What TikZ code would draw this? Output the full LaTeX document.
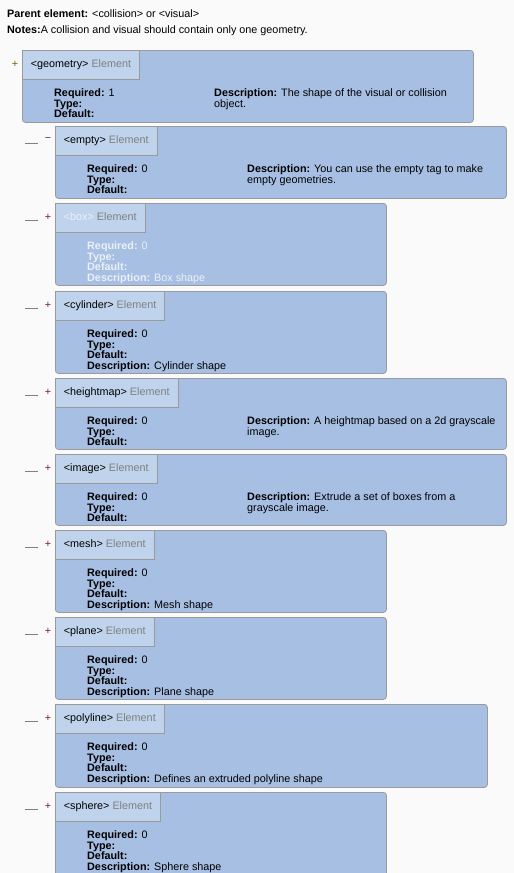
\documentclass[tikz,border=0pt]{standalone}
\usepackage{fontspec}
\setmainfont{Liberation Sans}
\usetikzlibrary{positioning}
\definecolor{bodyblue}{HTML}{A7BFE3}
\definecolor{tabblue}{HTML}{C0D3EC}
\definecolor{edgegray}{HTML}{9A9A9A}
\definecolor{pagegray}{HTML}{FAFAFA}
\definecolor{elemgray}{HTML}{7F7F7F}
\definecolor{faded}{HTML}{EAF0F8}
\definecolor{signred}{HTML}{7A2020}
\definecolor{signolive}{HTML}{7A6400}
\definecolor{linegray}{HTML}{808080}

\begin{document}
\begin{tikzpicture}[x=1pt,y=-1pt,
	every node/.style={font=\fontsize{10.8}{10.7}\selectfont,inner sep=0pt},
	elbody/.style={draw=edgegray,fill=bodyblue,line width=0.8pt,rounded corners=3pt,anchor=north west},
	eltab/.style={draw=edgegray,fill=tabblue,line width=0.8pt,anchor=north west,inner xsep=8.5pt,minimum height=28.5pt,text height=8pt,text depth=2pt},
	elinfo/.style={anchor=north west,align=left},
	elsign/.style={text=signred,inner xsep=6.5pt},
	elline/.style={draw=linegray,line width=0.5pt}]
		\fill[pagegray] (0,0) rectangle (514,873);
		\useasboundingbox (0,0) rectangle (514,873);

		% Header notes
		\node[anchor=base west] (parentNote) at (7,17) {\textbf{Parent element:} <collision> or <visual>};
		\node[anchor=base west] (notesNote) at (7,33) {\textbf{Notes:}A collision and visual should contain only one geometry.};

		% geometry
		\node[elbody,minimum width=451pt,minimum height=72pt] (geomBody) at (22,50) {};
		\node[eltab] (geomTab) at (geomBody.north west) {<geometry> \textcolor{elemgray}{Element}};
		\node[text=signolive] (geomSign) at (15,64) {+};
		\node[elinfo] (geomReq) at (54,88.5) {\textbf{Required:} 1\\\textbf{Type:}\\\textbf{Default:}};
		\node[elinfo] (geomDesc) at (214,88.5) {\textbf{Description:} The shape of the visual or collision\\object.};

		% empty
		\node[elbody,minimum width=451pt,minimum height=72pt] (emptyBody) at (55,126) {};
		\node[eltab] (emptyTab) at (emptyBody.north west) {<empty> \textcolor{elemgray}{Element}};
		\node[elsign] (emptySign) at (48,140) {−};
		\coordinate (emptyDash) at (25,143);
		\draw[elline] (emptyDash) -- (emptyDash -| emptySign.west);
		\node[elinfo] (emptyReq) at (87,164.5) {\textbf{Required:} 0\\\textbf{Type:}\\\textbf{Default:}};
		\node[elinfo] (emptyDesc) at (247,164.5) {\textbf{Description:} You can use the empty tag to make\\empty geometries.};

		% box
		\node[elbody,minimum width=331pt,minimum height=82pt] (boxBody) at (55,203) {};
		\node[eltab] (boxTab) at (boxBody.north west) {\textcolor{faded}{<box>} \textcolor{elemgray}{Element}};
		\node[elsign] (boxSign) at (48,217) {+};
		\coordinate (boxDash) at (25,220);
		\draw[elline] (boxDash) -- (boxDash -| boxSign.west);
		\node[elinfo,text=faded] (boxReq) at (87,241.5) {\textbf{Required:} 0\\\textbf{Type:}\\\textbf{Default:}\\\textbf{Description:} Box shape};

		% cylinder
		\node[elbody,minimum width=331pt,minimum height=82pt] (cylBody) at (55,291) {};
		\node[eltab] (cylTab) at (cylBody.north west) {<cylinder> \textcolor{elemgray}{Element}};
		\node[elsign] (cylSign) at (48,305) {+};
		\coordinate (cylDash) at (25,308);
		\draw[elline] (cylDash) -- (cylDash -| cylSign.west);
		\node[elinfo] (cylReq) at (87,329.5) {\textbf{Required:} 0\\\textbf{Type:}\\\textbf{Default:}\\\textbf{Description:} Cylinder shape};

		% heightmap
		\node[elbody,minimum width=451pt,minimum height=71pt] (hmapBody) at (55,378) {};
		\node[eltab] (hmapTab) at (hmapBody.north west) {<heightmap> \textcolor{elemgray}{Element}};
		\node[elsign] (hmapSign) at (48,392) {+};
		\coordinate (hmapDash) at (25,395);
		\draw[elline] (hmapDash) -- (hmapDash -| hmapSign.west);
		\node[elinfo] (hmapReq) at (87,416.5) {\textbf{Required:} 0\\\textbf{Type:}\\\textbf{Default:}};
		\node[elinfo] (hmapDesc) at (247,416.5) {\textbf{Description:} A heightmap based on a 2d grayscale\\image.};

		% image
		\node[elbody,minimum width=451pt,minimum height=71pt] (imgBody) at (55,454) {};
		\node[eltab] (imgTab) at (imgBody.north west) {<image> \textcolor{elemgray}{Element}};
		\node[elsign] (imgSign) at (48,468) {+};
		\coordinate (imgDash) at (25,471);
		\draw[elline] (imgDash) -- (imgDash -| imgSign.west);
		\node[elinfo] (imgReq) at (87,492.5) {\textbf{Required:} 0\\\textbf{Type:}\\\textbf{Default:}};
		\node[elinfo] (imgDesc) at (247,492.5) {\textbf{Description:} Extrude a set of boxes from a\\grayscale image.};

		% mesh
		\node[elbody,minimum width=331pt,minimum height=82pt] (meshBody) at (55,530) {};
		\node[eltab] (meshTab) at (meshBody.north west) {<mesh> \textcolor{elemgray}{Element}};
		\node[elsign] (meshSign) at (48,544) {+};
		\coordinate (meshDash) at (25,547);
		\draw[elline] (meshDash) -- (meshDash -| meshSign.west);
		\node[elinfo] (meshReq) at (87,568.5) {\textbf{Required:} 0\\\textbf{Type:}\\\textbf{Default:}\\\textbf{Description:} Mesh shape};

		% plane
		\node[elbody,minimum width=331pt,minimum height=82pt] (planeBody) at (55,617) {};
		\node[eltab] (planeTab) at (planeBody.north west) {<plane> \textcolor{elemgray}{Element}};
		\node[elsign] (planeSign) at (48,631) {+};
		\coordinate (planeDash) at (25,634);
		\draw[elline] (planeDash) -- (planeDash -| planeSign.west);
		\node[elinfo] (planeReq) at (87,655.5) {\textbf{Required:} 0\\\textbf{Type:}\\\textbf{Default:}\\\textbf{Description:} Plane shape};

		% polyline
		\node[elbody,minimum width=432pt,minimum height=83pt] (polyBody) at (55,704) {};
		\node[eltab] (polyTab) at (polyBody.north west) {<polyline> \textcolor{elemgray}{Element}};
		\node[elsign] (polySign) at (48,718) {+};
		\coordinate (polyDash) at (25,721);
		\draw[elline] (polyDash) -- (polyDash -| polySign.west);
		\node[elinfo] (polyReq) at (87,742.5) {\textbf{Required:} 0\\\textbf{Type:}\\\textbf{Default:}\\\textbf{Description:} Defines an extruded polyline shape};

		% sphere
		\node[elbody,minimum width=331pt,minimum height=90pt] (sphBody) at (55,792) {};
		\node[eltab] (sphTab) at (sphBody.north west) {<sphere> \textcolor{elemgray}{Element}};
		\node[elsign] (sphSign) at (48,806) {+};
		\coordinate (sphDash) at (25,809);
		\draw[elline] (sphDash) -- (sphDash -| sphSign.west);
		\node[elinfo] (sphReq) at (87,830.5) {\textbf{Required:} 0\\\textbf{Type:}\\\textbf{Default:}\\\textbf{Description:} Sphere shape};
		
		\end{tikzpicture}
\end{document}
